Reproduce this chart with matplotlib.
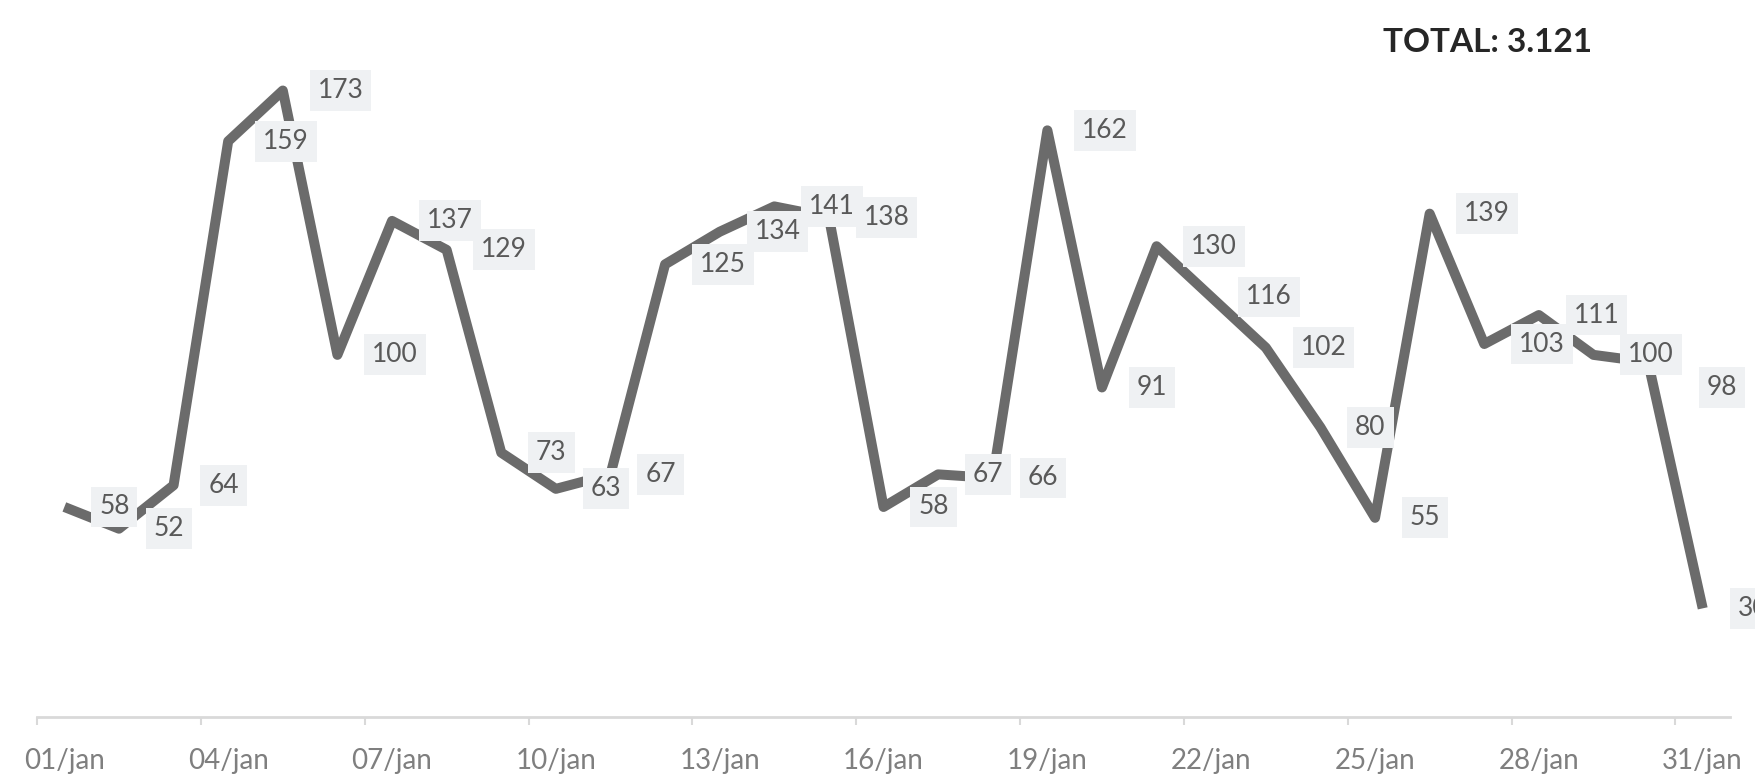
import matplotlib.pyplot as plt

# daily values for january
days = list(range(1, 32))
values = [58, 52, 64, 159, 173, 100, 137, 129, 73, 63, 67, 125, 134, 141, 138,
          58, 67, 66, 162, 91, 130, 116, 102, 80, 55, 139, 103, 111, 100, 98, 30]
tick_days = list(range(1, 32, 3))
tick_labels = [f"{d:02d}/jan" for d in tick_days]
total_text = "TOTAL: 3.121"

plt.rcParams['font.family'] = ['Lato', 'DejaVu Sans']

fig = plt.figure(figsize=(17.56, 7.83), dpi=100)
ax = fig.add_axes([0.0211, 0.0843, 0.9641, 0.9157])

ax.plot(days, values, color='#6b6b6b', lw=7.2, solid_joinstyle='round',
        solid_capstyle='butt', zorder=2, clip_on=False)

# labels to the right of each point
nudges = {30: (42, -18)}
for d, v in zip(days, values):
    off = nudges.get(d, (25, 0))
    ax.annotate(str(v), xy=(d, v), xytext=off, textcoords='offset points',
                ha='left', va='center', fontsize=19, color='#595959',
                bbox=dict(boxstyle='square,pad=0.3', fc='#eff1f3', ec='none'),
                zorder=3, annotation_clip=False)

ax.set_xlim(0.5, 31.5)
ax.set_ylim(0, 198)

# tick marks between categories, labels on the categories
ax.set_xticks([d - 0.5 for d in tick_days])
ax.set_xticklabels([])
ax.tick_params(axis='x', which='major', length=6, width=1.5, color='#d9d9d9')
ax.set_xticks(tick_days, minor=True)
ax.set_xticklabels(tick_labels, minor=True)
ax.tick_params(axis='x', which='minor', length=0, pad=22, labelsize=20,
               labelcolor='#7f7f7f')
ax.set_yticks([])

for s in ['top', 'right', 'left']:
    ax.spines[s].set_visible(False)
ax.spines['bottom'].set_color('#d9d9d9')
ax.spines['bottom'].set_linewidth(2)

fig.text(0.847, 0.946, total_text, ha='center', va='center', fontsize=24,
         fontweight='bold', color='#262626')

fig.savefig('out.png', dpi=100)
